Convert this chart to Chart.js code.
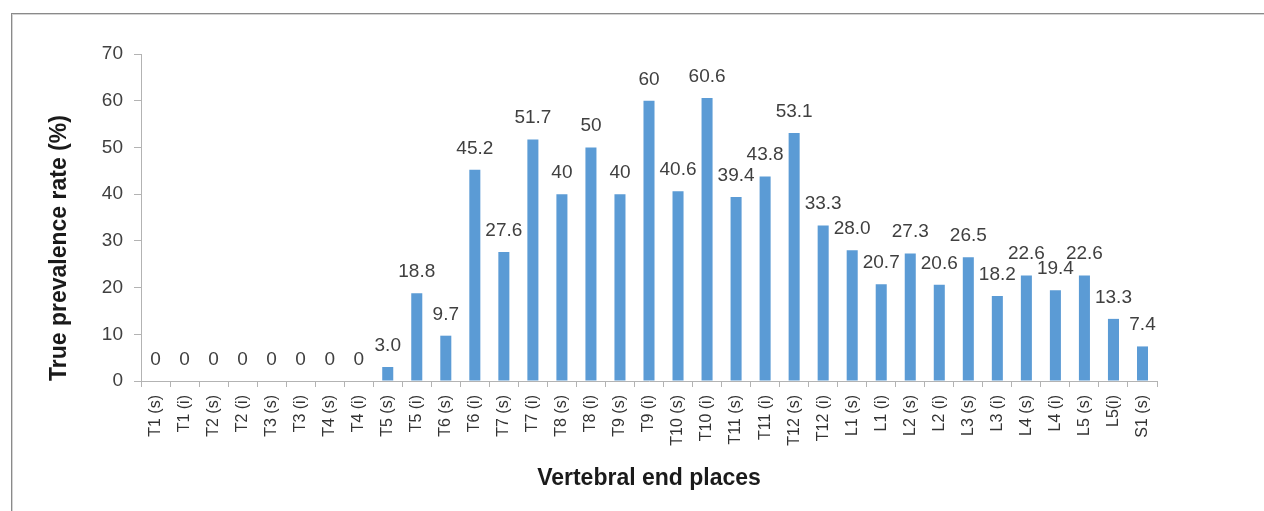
<!DOCTYPE html>
<html>
<head>
<meta charset="utf-8">
<script src="https://cdn.jsdelivr.net/npm/chart.js@4"></script>
<style>
    html, body { margin: 0; padding: 0; background: #ffffff; }
    #wrap { position: relative; width: 1264px; height: 511px; overflow: hidden; }
    #frame {
        position: absolute; left: 11px; top: 13px; width: 1400px; height: 600px;
        border-left: 1px solid #8a8a8a; border-top: 1px solid #8a8a8a;
        box-shadow: inset 1px 1px 0 #d4d4d4;
    }
    canvas { position: absolute; left: 0; top: 0; }
</style>
</head>
<body>
<div id="wrap">
    <div id="frame"></div>
    <canvas id="prevalenceChart" width="1264" height="511"></canvas>
</div>
<script>
// Vertebral end places (s = superior, i = inferior)
const places = [
    "T1 (s)", "T1 (i)", "T2 (s)", "T2 (i)", "T3 (s)", "T3 (i)", "T4 (s)", "T4 (i)",
    "T5 (s)", "T5 (i)", "T6 (s)", "T6 (i)", "T7 (s)", "T7 (i)", "T8 (s)", "T8 (i)",
    "T9 (s)", "T9 (i)", "T10 (s)", "T10 (i)", "T11 (s)", "T11 (i)", "T12 (s)", "T12 (i)",
    "L1 (s)", "L1 (i)", "L2 (s)", "L2 (i)", "L3 (s)", "L3 (i)", "L4 (s)", "L4 (i)",
    "L5 (s)", "L5(i)", "S1 (s)"
];

// True prevalence rate (%)
const prevalence = [
    0, 0, 0, 0, 0, 0, 0, 0,
    3.0, 18.8, 9.7, 45.2, 27.6, 51.7, 40, 50,
    40, 60, 40.6, 60.6, 39.4, 43.8, 53.1, 33.3,
    28.0, 20.7, 27.3, 20.6, 26.5, 18.2, 22.6, 19.4,
    22.6, 13.3, 7.4
];

// labels as printed above the bars
const valueLabels = [
    "0", "0", "0", "0", "0", "0", "0", "0",
    "3.0", "18.8", "9.7", "45.2", "27.6", "51.7", "40", "50",
    "40", "60", "40.6", "60.6", "39.4", "43.8", "53.1", "33.3",
    "28.0", "20.7", "27.3", "20.6", "26.5", "18.2", "22.6", "19.4",
    "22.6", "13.3", "7.4"
];

const yTicks = [0, 10, 20, 30, 40, 50, 60, 70];

const FONT = "'Liberation Sans', Arial, sans-serif";
const axisGrey = '#b3b3b3';

// draws the value above each bar
const barValues = {
    id: 'barValues',
    afterDatasetsDraw(chart) {
        const ctx = chart.ctx;
        const meta = chart.getDatasetMeta(0);
        ctx.save();
        ctx.font = '19px ' + FONT;
        ctx.fillStyle = '#404040';
        ctx.textAlign = 'center';
        ctx.textBaseline = 'alphabetic';
        meta.data.forEach((bar, i) => {
            ctx.fillText(valueLabels[i], bar.x, bar.y - 16);
        });
        ctx.restore();
    }
};

window.onload = function () {
    const ctx = document.getElementById('prevalenceChart').getContext('2d');

    new Chart(ctx, {
        type: 'bar',
        data: {
            labels: places,
            datasets: [{
                label: 'True prevalence rate (%)',
                data: prevalence,
                backgroundColor: '#5b9bd5',
                borderWidth: 0,
                barPercentage: 0.38,
                categoryPercentage: 1.0
            }]
        },
        options: {
            responsive: false,
            animation: false,
            layout: {
                padding: { left: 0, top: 54, right: 107, bottom: 0 }
            },
            plugins: {
                legend: { display: false },
                tooltip: { enabled: false }
            },
            scales: {
                x: {
                    afterFit(scale) { scale.height = 130; },
                    grid: {
                        drawOnChartArea: false,
                        drawTicks: true,
                        tickLength: 6,
                        color: axisGrey
                    },
                    border: { display: true, color: axisGrey, width: 1 },
                    ticks: {
                        autoSkip: false,
                        minRotation: 90,
                        maxRotation: 90,
                        padding: 8,
                        color: '#333333',
                        font: { family: FONT, size: 16 }
                    },
                    title: {
                        display: true,
                        text: 'Vertebral end places',
                        color: '#1a1a1a',
                        font: { family: FONT, size: 23, weight: 'bold' },
                        padding: { top: 0, bottom: 19 }
                    }
                },
                y: {
                    min: 0,
                    max: 70,
                    afterFit(scale) { scale.width = 141; },
                    afterBuildTicks(scale) {
                        scale.ticks = yTicks.map(v => ({ value: v }));
                    },
                    grid: {
                        drawOnChartArea: false,
                        drawTicks: true,
                        tickLength: 7,
                        color: axisGrey
                    },
                    border: { display: true, color: axisGrey, width: 1 },
                    ticks: {
                        padding: 11,
                        color: '#404040',
                        font: { family: FONT, size: 19 }
                    },
                    title: {
                        display: true,
                        text: 'True prevalence rate (%)',
                        align: 'start',
                        color: '#1a1a1a',
                        font: { family: FONT, size: 23, weight: 'bold' },
                        padding: { top: 46, bottom: 0 }
                    }
                }
            }
        },
        plugins: [barValues]
    });
};
</script>
</body>
</html>
